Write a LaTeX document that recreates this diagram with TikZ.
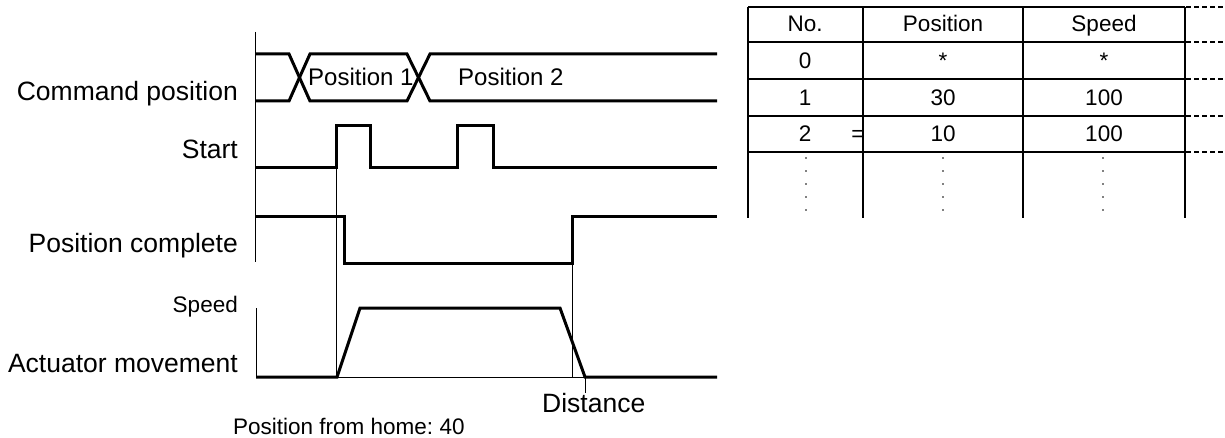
\documentclass[tikz,border=0pt]{standalone}
\usepackage{fontspec}
\setmainfont{Liberation Sans}
\frenchspacing
\newcommand{\lblfont}{\fontsize{26.5}{30}\selectfont}
\newcommand{\smfont}{\fontsize{22.5}{26}\selectfont}
\newcommand{\posfont}{\fontsize{24}{28}\selectfont}
\tikzset{
  sig/.style={line width=3pt},
  guide/.style={line width=0.9pt},
  tabline/.style={line width=2.6pt},
  tabdash/.style={line width=1.8pt, dash pattern=on 5pt off 3pt},
  lbl/.style={font=\lblfont, anchor=base east, inner sep=0pt},
  cell/.style={font=\smfont, anchor=base, inner sep=0pt}
}
\begin{document}
\begin{tikzpicture}[x=1pt, y=-1pt]
			\useasboundingbox (0,0) rectangle (1225,438);
			% axes
			\draw[guide] (255,32)--(255,262);
			\draw[guide] (256,308)--(256,377);
			% labels
			\node[lbl] (cmd) at (238,101) {Command position};
			\node[lbl] (start) at (238,159) {Start};
			\node[lbl] (pcomp) at (238,253) {Position complete};
			\node[lbl, font=\smfont] (speed) at (238,312) {Speed};
			\node[lbl] (act) at (238,372) {Actuator movement};
			% command position
			\draw[sig] (255,54)--(289,54)--(310,101)--(407,101)--(430,54)--(717,54);
			\draw[sig] (255,101)--(289,101)--(310,54)--(407,54)--(430,101)--(717,101);
			\node[cell, font=\posfont, anchor=base west] (pos1) at (308,86) {Position 1};
			\node[cell, font=\posfont, anchor=base west] (pos2) at (458,86) {Position 2};
			% start
			\draw[sig] (255,168)--(336,168)--(336,126)--(370,126)--(370,168)--(457,168)--(457,126)--(493,126)--(493,168)--(717,168);
			% position complete
			\draw[sig] (255,217)--(344,217)--(344,263)--(572,263)--(572,217)--(717,217);
			% guides
			\draw[guide] (336,168)--(336,377);
			\draw[guide] (572,263)--(572,377);
			\draw[guide] (337,377)--(585,377)--(585,393);
			% actuator movement
			\draw[sig] (256,377)--(337,377)--(360,308)--(560,308)--(585,377)--(717,377);
			\node[cell, font=\lblfont, anchor=base west] (dist) at (542,412) {Distance};
			\node[cell, anchor=base west] (home) at (233,434) {Position from home: 40};
			% table
			\foreach \y in {7,42,79,116,152} {
				\draw[tabline] (748,\y)--(1185,\y);
				\draw[tabdash] (1186,\y)--(1225,\y);
			}
			\foreach \x in {748,863,1023,1185} \draw[tabline] (\x,7)--(\x,218);
			\node[cell] (hno) at (805,32) {No.};
			\node[cell] (hpos) at (943,32) {Position};
			\node[cell] (hspd) at (1104,32) {Speed};
			\node[cell] (n0) at (805,69) {0};
			\node[cell] (p0) at (943,69) {*};
			\node[cell] (s0) at (1104,69) {*};
			\node[cell] (n1) at (805,106) {1};
			\node[cell] (p1) at (943,106) {30};
			\node[cell] (s1) at (1104,106) {100};
			\node[cell] (n2) at (805,142) {2};
			\node[cell] (eq) at (858,142) {=};
			\node[cell] (p2) at (943,142) {10};
			\node[cell] (s2) at (1104,142) {100};
			\foreach \x in {806,943,1103}
				\foreach \y in {158,171,184,197,210}
					\fill (\x,\y) circle (0.9);
		\end{tikzpicture}
\end{document}
